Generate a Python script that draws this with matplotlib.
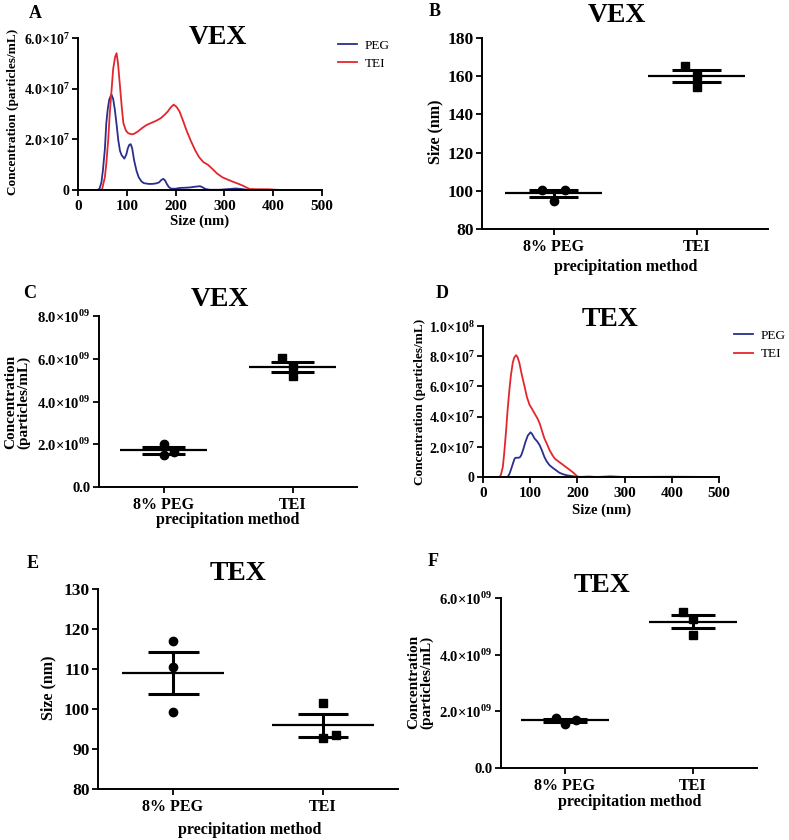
import numpy as np
import matplotlib
matplotlib.use("Agg")
import matplotlib.pyplot as plt

plt.rcParams["font.family"] = ["Liberation Serif", "DejaVu Serif"]
plt.rcParams["mathtext.fontset"] = "custom"
plt.rcParams["mathtext.rm"] = "Liberation Serif:bold"
plt.rcParams["mathtext.bf"] = "Liberation Serif:bold"

W, H = 789, 840
BLUE = "#2a2e8c"
RED = "#e3262d"

# --- NTA size distributions (size in nm, concentration in 1e6 particles/mL) ---
vex_tei_size = [0, 45, 49, 55, 58, 62, 65, 69, 72, 76, 79, 82, 86, 90, 93, 98, 103, 110, 114,
                122, 131, 140, 149, 160, 170, 178, 184, 190, 196, 202, 208, 215, 222, 231,
                240, 248, 257, 266, 275, 285, 296, 307, 317, 328, 338, 345, 352, 370, 390,
                405, 420, 500]
vex_tei_conc = [0, 0, 0, 5, 10.4, 20, 30, 40, 47.7, 52.5, 54, 50, 41, 32, 26.4, 23.5, 22.4, 22,
                22.1, 23, 24.4, 25.6, 26.4, 27.3, 28.4, 29.8, 31, 32.6, 33.7, 32.8, 31, 27.5,
                23.7, 19.5, 15.7, 13, 11, 10, 8.4, 6.5, 5, 4.1, 3.3, 2.5, 1.7, 1, 0.4, 0.3,
                0.3, 0.1, 0, 0]
vex_peg_size = [0, 40, 44, 48, 51, 55, 58, 61, 64, 68.5, 72, 75.5, 79, 82.5, 86, 89.5, 95, 99,
                102, 105, 108, 111, 115, 120, 124.5, 130, 135, 145, 152, 160, 166, 171, 175,
                179, 182, 186, 191, 200, 208, 220, 229, 240, 250, 256, 261, 270, 290, 310,
                323, 335, 345, 360, 500]
vex_peg_conc = [0, 0, 0.5, 3, 7.7, 16, 26.4, 32, 35.7, 37.7, 36, 31.7, 26, 19.7, 15.5, 13.7,
                12.4, 14, 16.4, 17.8, 18.1, 16.5, 11.7, 7.5, 5, 3.4, 2.7, 2.4, 2.4, 2.6, 3, 4,
                4.4, 3.6, 2.4, 1.2, 0.5, 0.5, 0.8, 0.9, 1, 1.3, 1.5, 1.0, 0.4, 0.1, 0.1, 0.4,
                0.6, 0.4, 0.1, 0, 0]

tex_tei_size = [0, 33, 35, 38, 42, 45, 49, 52, 56, 59, 63, 66, 70, 73, 77, 82, 88, 93, 98.6,
                104, 109, 115, 120, 125, 130, 136, 141, 147, 152, 159, 166, 173, 180, 186,
                192, 197, 201, 210, 240, 260, 270, 280, 300, 400, 500]
tex_tei_conc = [0, 0, 0, 1.5, 6.7, 16, 31, 44, 58, 67, 75.6, 79, 80.7, 79.5, 75.6, 68, 60, 53,
                47.8, 45, 42.2, 39, 35.6, 30.5, 25.6, 21.5, 17.8, 14.5, 12.2, 10.5, 8.9, 7.2,
                5.6, 4.2, 2.7, 1.2, 0.2, 0, 0, 0.3, 0.5, 0.3, 0, 0.2, 0]
tex_peg_size = [0, 50, 52, 56, 60, 64, 67, 70, 74, 78, 81, 85, 90, 95, 100.7, 104, 109, 115,
                120, 125, 130, 135, 141, 148, 155, 162, 170, 178, 187, 195, 201, 225, 240, 500]
tex_peg_conc = [0, 0, 0, 2, 5.6, 9.5, 12.2, 12.8, 12.7, 13, 14.4, 18, 23.3, 27.5, 29.6, 28.5,
                25.6, 23.5, 21.1, 17.5, 13.3, 10.3, 7.8, 6, 4.4, 2.8, 1.8, 1.1, 0.7, 0.3, 0,
                0.3, 0, 0]

# --- replicate measurements per precipitation method ---
groups = ["8% PEG", "TEI"]
vex_size_peg = [100.6, 94.8, 100.6]
vex_size_tei = [165.2, 160.3, 154.3]
vex_conc_peg = [2.03e9, 1.64e9, 1.48e9]
vex_conc_tei = [6.02e9, 5.66e9, 5.19e9]
tex_size_peg = [117.1, 110.6, 99.3]
tex_size_tei = [101.5, 92.8, 93.4]
tex_conc_peg = [1.76e9, 1.71e9, 1.56e9]
tex_conc_tei = [5.49e9, 5.27e9, 4.71e9]

# --- tick labels ---
nta_xticks = [0, 100, 200, 300, 400, 500]
vex_nta_yticks = [0, 2e7, 4e7, 6e7]
vex_nta_ylabels = ["0", "2.0×10$^{\\mathbf{7}}$", "4.0×10$^{\\mathbf{7}}$", "6.0×10$^{\\mathbf{7}}$"]
tex_nta_yticks = [0, 2e7, 4e7, 6e7, 8e7, 1e8]
tex_nta_ylabels = ["0", "2.0×10$^{\\mathbf{7}}$", "4.0×10$^{\\mathbf{7}}$", "6.0×10$^{\\mathbf{7}}$",
                   "8.0×10$^{\\mathbf{7}}$", "1.0×10$^{\\mathbf{8}}$"]
vex_size_yticks = [80, 100, 120, 140, 160, 180]
vex_conc_yticks = [0, 2e9, 4e9, 6e9, 8e9]
vex_conc_ylabels = ["0.0", "2.0×10$^{\\mathbf{09}}$", "4.0×10$^{\\mathbf{09}}$",
                    "6.0×10$^{\\mathbf{09}}$", "8.0×10$^{\\mathbf{09}}$"]
tex_size_yticks = [80, 90, 100, 110, 120, 130]
tex_conc_yticks = [0, 2e9, 4e9, 6e9]
tex_conc_ylabels = ["0.0", "2.0×10$^{\\mathbf{09}}$", "4.0×10$^{\\mathbf{09}}$",
                    "6.0×10$^{\\mathbf{09}}$"]


def box(x0, y0, x1, y1):
    """pixel box -> figure axes rect"""
    return [x0 / W, 1 - y1 / H, (x1 - x0) / W, (y1 - y0) / H]


def ftext(fig, x, y, s, **kw):
    fig.text(x / W, 1 - y / H, s, ha="center", va="center", **kw)


def style_axes(ax, xsize, ysize):
    for side in ["top", "right"]:
        ax.spines[side].set_visible(False)
    for side in ["left", "bottom"]:
        ax.spines[side].set_linewidth(1.4)
    ax.tick_params(direction="out", length=4, width=1.3, pad=2)
    ax.tick_params(axis="x", labelsize=xsize, pad=3)
    ax.tick_params(axis="y", labelsize=ysize)
    for lab in ax.get_xticklabels() + ax.get_yticklabels():
        lab.set_fontweight("bold")


def nta_panel(ax, peg_x, peg_y, tei_x, tei_y, yticks, ylabels, legend_xy):
    ax.plot(peg_x, np.array(peg_y) * 1e6, color=BLUE, lw=1.3, label="PEG")
    ax.plot(tei_x, np.array(tei_y) * 1e6, color=RED, lw=1.3, label="TEI")
    ax.set_xlim(0, 500)
    ax.set_ylim(0, yticks[-1])
    ax.set_xticks(nta_xticks)
    ax.set_yticks(yticks)
    ax.set_yticklabels(ylabels)
    style_axes(ax, 11, 10)
    ax.legend(loc="upper left", bbox_to_anchor=legend_xy, frameon=False, fontsize=9.5,
              handlelength=1.4, handletextpad=0.6, labelspacing=0.45,
              borderpad=0, borderaxespad=0)


def dot_panel(ax, data, offsets, yticks, ylabels=None, ysize=12.5):
    markers = ["o", "s"]
    for i, vals in enumerate(data):
        vals = np.array(vals)
        ax.plot(i + np.array(offsets[i]), vals, ls="none", marker=markers[i],
                color="black", ms=6, clip_on=False)
        mean = vals.mean()
        sem = vals.std(ddof=1) / np.sqrt(len(vals))
        ax.hlines(mean, i - 0.34, i + 0.34, color="black", lw=1.6)
        ax.hlines([mean - sem, mean + sem], i - 0.17, i + 0.17, color="black", lw=2.2)
        ax.vlines(i, mean - sem, mean + sem, color="black", lw=2.2)
    ax.set_xlim(-0.5, 1.5)
    ax.set_ylim(yticks[0], yticks[-1])
    ax.set_xticks([0, 1])
    ax.set_xticklabels(groups)
    ax.set_yticks(yticks)
    if ylabels is not None:
        ax.set_yticklabels(ylabels)
    style_axes(ax, 11.5, ysize)


fig = plt.figure(figsize=(W / 100, H / 100), dpi=100)

# A
axA = fig.add_axes(box(78, 38, 322, 190))
nta_panel(axA, vex_peg_size, vex_peg_conc, vex_tei_size, vex_tei_conc,
          vex_nta_yticks, vex_nta_ylabels, (1.066, 0.99))
ftext(fig, 200, 221, "Size (nm)", fontsize=10.5, fontweight="bold")
ftext(fig, 13, 112, "Concentration (particles/mL)", fontsize=9.5, fontweight="bold", rotation=90)

# B
axB = fig.add_axes(box(482, 38, 768, 229))
dot_panel(axB, [vex_size_peg, vex_size_tei], [[-0.08, 0, 0.08], [-0.08, 0, 0]], vex_size_yticks)
ftext(fig, 435, 132, "Size (nm)", fontsize=11.5, fontweight="bold", rotation=90)
ftext(fig, 626, 267, "precipitation method", fontsize=11.5, fontweight="bold")

# C
axC = fig.add_axes(box(99, 316, 357, 487))
dot_panel(axC, [vex_conc_peg, vex_conc_tei], [[0, 0.08, 0], [-0.08, 0, 0]],
          vex_conc_yticks, vex_conc_ylabels, ysize=10.5)
ftext(fig, 17, 402, "Concentration\n(particles/mL)", fontsize=11, fontweight="bold",
      rotation=90, linespacing=1.0)
ftext(fig, 228, 520, "precipitation method", fontsize=11.5, fontweight="bold")

# D
axD = fig.add_axes(box(483, 326, 719, 477))
nta_panel(axD, tex_peg_size, tex_peg_conc, tex_tei_size, tex_tei_conc,
          tex_nta_yticks, tex_nta_ylabels, (1.065, 0.975))
ftext(fig, 602, 510, "Size (nm)", fontsize=10.5, fontweight="bold")
ftext(fig, 420, 402, "Concentration (particles/mL)", fontsize=9.5, fontweight="bold", rotation=90)

# E
axE = fig.add_axes(box(98, 589, 398, 789))
dot_panel(axE, [tex_size_peg, tex_size_tei], [[0, 0, 0], [0, 0, 0.085]], tex_size_yticks)
ftext(fig, 48, 688, "Size (nm)", fontsize=11.5, fontweight="bold", rotation=90)
ftext(fig, 250, 830, "precipitation method", fontsize=11.5, fontweight="bold")

# F
axF = fig.add_axes(box(501, 598, 757, 768))
dot_panel(axF, [tex_conc_peg, tex_conc_tei], [[-0.073, 0.083, 0], [-0.075, 0, 0]],
          tex_conc_yticks, tex_conc_ylabels, ysize=10.5)
ftext(fig, 420, 682, "Concentration\n(particles/mL)", fontsize=11, fontweight="bold",
      rotation=90, linespacing=1.0)
ftext(fig, 630, 802, "precipitation method", fontsize=11.5, fontweight="bold")

# titles and panel letters
for x, y, s in [(218, 37, "VEX"), (617, 15, "VEX"), (220, 300, "VEX"),
                (610, 319, "TEX"), (238, 573, "TEX"), (602, 585, "TEX")]:
    ftext(fig, x, y, s, fontsize=20, fontweight="bold")
for x, y, s in [(35, 13, "A"), (435, 12, "B"), (30, 293, "C"),
                (442, 293, "D"), (33, 563, "E"), (433, 562, "F")]:
    ftext(fig, x, y, s, fontsize=13, fontweight="bold")

fig.savefig("out.png", dpi=100)
